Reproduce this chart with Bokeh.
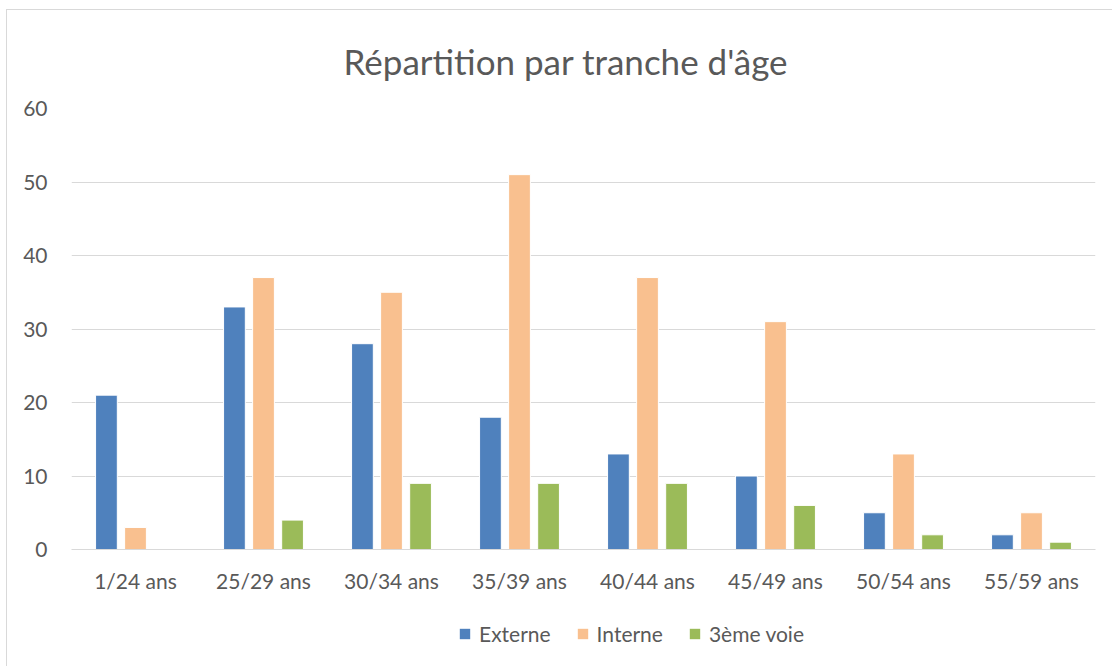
from bokeh.plotting import figure
from bokeh.layouts import column
from bokeh.models import ColumnDataSource, FactorRange, Legend, LegendItem
from bokeh.transform import dodge
from bokeh.embed import file_html
from bokeh.resources import INLINE

categories = ["1/24 ans", "25/29 ans", "30/34 ans", "35/39 ans", "40/44 ans", "45/49 ans", "50/54 ans", "55/59 ans"]
externe = [21, 33, 28, 18, 13, 10, 5, 2]
interne = [3, 37, 35, 51, 37, 31, 13, 5]
troisieme = [0, 4, 9, 9, 9, 6, 2, 1]
series_names = ["Externe", "Interne", "3ème voie"]
colors = ["#4F81BD", "#F9C08F", "#9BBB59"]
y_ticks = [0, 10, 20, 30, 40, 50, 60]

FONT = "Lato"
TXT = "#595959"

src = ColumnDataSource(dict(cat=categories, Externe=externe, Interne=interne, Troisieme=troisieme))

p = figure(x_range=FactorRange(*categories), y_range=(0, 60),
           frame_width=1024, frame_height=441,
           output_backend="svg", toolbar_location=None,
           min_border_left=64, min_border_right=17, min_border_top=98, min_border_bottom=60)

fields = ["Externe", "Interne", "Troisieme"]
offsets = [-0.227, 0.0, 0.227]
for f, off, c in zip(fields, offsets, colors):
    p.vbar(x=dodge("cat", off, range=p.x_range), top=f, width=0.17, source=src,
           fill_color=c, line_color="white", line_width=1)

p.title.text = "Répartition par tranche d'âge"
p.title.align = "left"
p.title.offset = 272
p.title.text_font = FONT
p.title.text_font_size = "35px"
p.title.text_font_style = "normal"
p.title.text_color = TXT
p.title.standoff = 53

p.outline_line_color = None
p.xgrid.grid_line_color = None
p.ygrid.grid_line_color = "#D9D9D9"
p.ygrid.grid_line_width = 1
p.yaxis.ticker = y_ticks
p.yaxis.axis_line_color = None
p.yaxis.major_tick_line_color = None
p.yaxis.minor_tick_line_color = None
p.yaxis.major_label_text_font = FONT
p.yaxis.major_label_text_font_size = "21px"
p.yaxis.major_label_text_color = TXT
p.yaxis.major_label_standoff = 18

p.xaxis.axis_line_color = "#D9D9D9"
p.xaxis.axis_line_width = 1
p.xaxis.major_tick_line_color = None
p.xaxis.minor_tick_line_color = None
p.xaxis.major_label_text_font = FONT
p.xaxis.major_label_text_font_size = "21px"
p.xaxis.major_label_text_color = TXT
p.xaxis.major_label_standoff = 12

# legend strip: same series, drawn outside its visible y range so only the legend shows
lf = figure(x_range=p.x_range, y_range=(100, 200), width=1105, height=57,
            output_backend="svg", toolbar_location=None, min_border=0,
            x_axis_location=None, y_axis_location=None)
lf.outline_line_color = None
lf.grid.visible = False
leg_renderers = []
for f, off, c in zip(fields, offsets, colors):
    r = lf.vbar(x=dodge("cat", off, range=lf.x_range), top=f, width=0.17, source=src,
                fill_color=c, line_color=None)
    leg_renderers.append(r)

legend = Legend(items=[LegendItem(label=n, renderers=[r]) for n, r in zip(series_names, leg_renderers)],
                orientation="horizontal", location=(387, 20),
                label_text_font=FONT, label_text_font_size="21px", label_text_color=TXT,
                glyph_width=13, glyph_height=13, spacing=25, label_standoff=8,
                border_line_color=None, background_fill_alpha=0, margin=0, padding=0)
lf.add_layout(legend, "center")

layout = column(p, lf, spacing=0)
layout.styles = {"margin-left": "6px", "margin-top": "9px",
                 "border-left": "1px solid #D9D9D9", "border-top": "1px solid #D9D9D9"}

open("out.html", "w").write(file_html(layout, INLINE))
